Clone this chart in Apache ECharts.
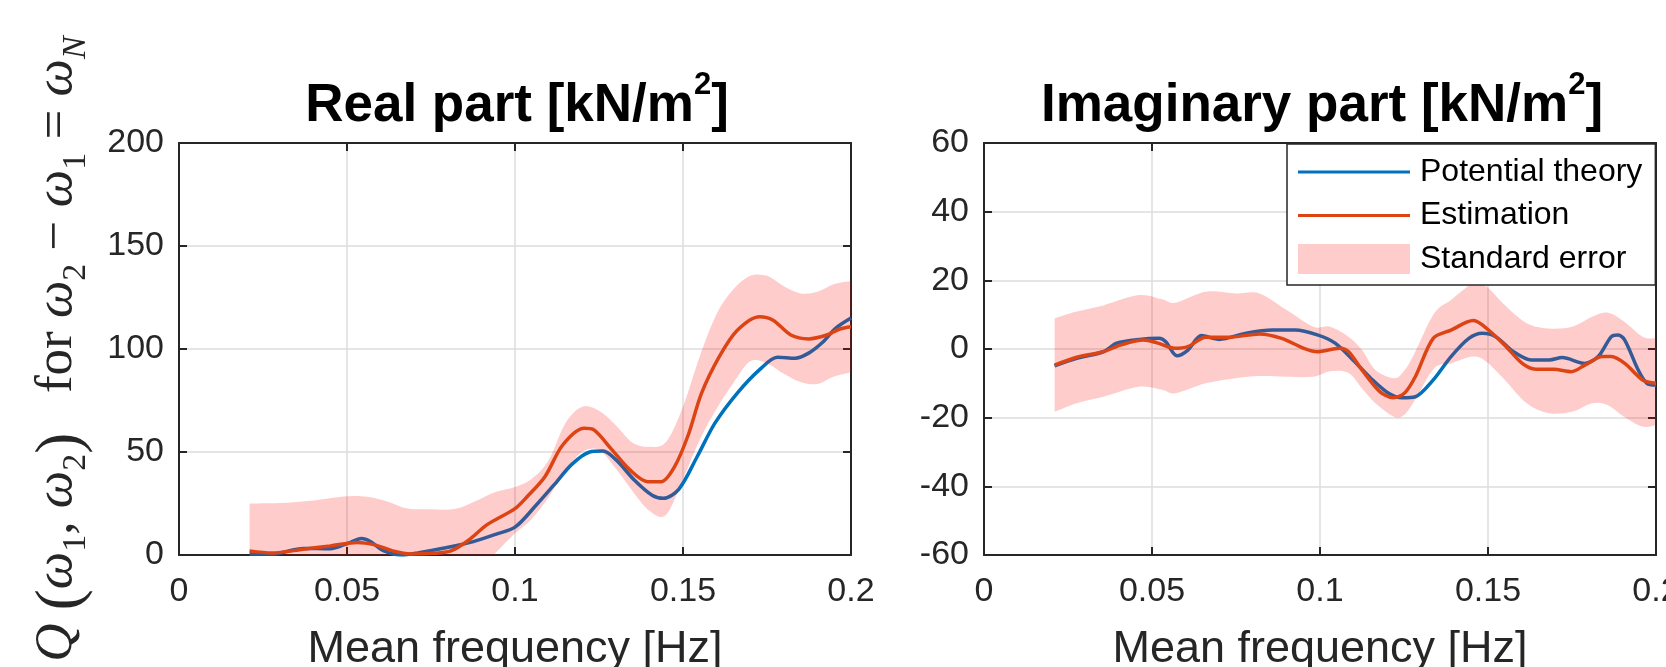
<!DOCTYPE html>
<html>
<head>
<meta charset="utf-8">
<script src="https://cdn.jsdelivr.net/npm/echarts@6/dist/echarts.min.js"></script>
<style>
  html, body { margin: 0; padding: 0; background: #fff; }
  #chart { width: 1666px; height: 667px; }
</style>
</head>
<body>
<div id="chart"></div>
<script>
// ---- Real part ----
const realTheoryX = [0.021, 0.0277, 0.037, 0.045, 0.0503, 0.0543, 0.057, 0.061, 0.0663, 0.0703, 0.0743, 0.0809, 0.0876, 0.0942, 0.1, 0.1062, 0.1116, 0.1169, 0.1222, 0.1262, 0.1302, 0.1355, 0.1408, 0.1442, 0.1488, 0.1542, 0.1595, 0.1661, 0.1728, 0.1781, 0.1834, 0.1874, 0.1914, 0.1954, 0.2];
const realTheoryY = [0.5, 0.5, 3.2, 3, 5.7, 8, 6.5, 2, 0, 0.8, 2, 4, 6.5, 10, 13.5, 24, 34, 44, 50, 50.5, 46, 36.4, 29, 27.5, 32, 47.7, 64, 78.5, 90, 96, 95.5, 98, 103, 110, 115];
const realEstX = [0.021, 0.0277, 0.037, 0.045, 0.053, 0.0583, 0.0636, 0.069, 0.0756, 0.0809, 0.0863, 0.0916, 0.1, 0.1036, 0.1089, 0.1142, 0.1206, 0.1235, 0.1289, 0.1342, 0.1395, 0.1435, 0.1475, 0.1515, 0.1555, 0.1608, 0.1661, 0.1728, 0.1768, 0.1821, 0.1874, 0.1928, 0.1967, 0.2];
const realEstY = [2, 1, 2.8, 4.4, 6.1, 4.9, 2, 0.5, 0.8, 2, 7.3, 14.6, 22.5, 28.3, 38, 53.4, 61.5, 60.7, 51, 41.3, 35.6, 35.6, 42.9, 58, 78.5, 96.3, 109, 115.7, 114, 106.8, 104.9, 106.8, 109.7, 110.8];
const realBandX = [0.021, 0.03, 0.04, 0.05, 0.056, 0.062, 0.068, 0.075, 0.082, 0.088, 0.094, 0.1, 0.105, 0.11, 0.115, 0.12, 0.125, 0.13, 0.135, 0.14, 0.145, 0.15, 0.155, 0.16, 0.165, 0.17, 0.175, 0.18, 0.185, 0.19, 0.195, 0.2];
const realBandLow = [-22, -22, -22, -22, -22, -22, -22, -22, -19, -9, 0.6, 10.5, 17.5, 28, 41, 50, 51, 42, 31, 21.5, 19.5, 37, 56, 71, 83.5, 94, 93, 88, 84, 83, 86.6, 88.7];
const realBandHigh = [25, 25.2, 26.5, 28.5, 28.3, 26, 22.6, 22.2, 22.3, 26, 30.5, 33, 37, 46, 64, 72, 70, 63, 54.5, 52.5, 55, 72, 96.5, 117, 129, 135.5, 135.5, 130.5, 127, 127.8, 131.5, 133];

// ---- Imaginary part ----
const imagTheoryX = [0.021, 0.0276, 0.0355, 0.0395, 0.0462, 0.0521, 0.0541, 0.0574, 0.0607, 0.0647, 0.07, 0.078, 0.0859, 0.0926, 0.0992, 0.1045, 0.1098, 0.1151, 0.1204, 0.1244, 0.1284, 0.1337, 0.139, 0.1443, 0.1483, 0.1523, 0.1576, 0.1629, 0.1682, 0.1721, 0.1788, 0.1828, 0.1867, 0.1887, 0.1907, 0.1947, 0.1973, 0.2];
const imagTheoryY = [-4.9, -2.7, -0.8, 1.7, 2.8, 3.1, 2.1, -2, -0.3, 3.9, 2.8, 4.6, 5.5, 5.5, 4.1, 1.7, -3.2, -8.5, -12.9, -14.2, -13.9, -9, -2.2, 3.1, 4.6, 3.6, -0.8, -3.2, -3.2, -2.5, -4.2, -2.2, 3.6, 4.1, 2.6, -6.1, -10, -10.5];
const imagEstX = [0.021, 0.0276, 0.0355, 0.0408, 0.0475, 0.0515, 0.0568, 0.0607, 0.066, 0.0727, 0.082, 0.0886, 0.0952, 0.0992, 0.1058, 0.1085, 0.1125, 0.1178, 0.1218, 0.1251, 0.1284, 0.1337, 0.139, 0.1456, 0.1483, 0.1549, 0.1602, 0.1642, 0.1695, 0.1748, 0.1788, 0.1841, 0.1867, 0.1907, 0.196, 0.2];
const imagEstY = [-4.7, -2.4, -0.8, 1.2, 2.6, 1.8, 0.2, 0.7, 3.4, 3.4, 4.4, 3.1, 0.2, -0.8, 0.2, -0.8, -6.1, -12.4, -14.2, -12.9, -8, 3.1, 5.5, 8.3, 7, 1.2, -4.2, -5.9, -5.9, -6.6, -4.7, -2.2, -2.2, -4.2, -9, -10];
const imagBandX = [0.021, 0.0276, 0.0355, 0.046, 0.053, 0.057, 0.066, 0.075, 0.082, 0.09, 0.098, 0.103, 0.1085, 0.1125, 0.1165, 0.122, 0.125, 0.128, 0.134, 0.139, 0.1455, 0.1495, 0.155, 0.1615, 0.168, 0.175, 0.181, 0.1855, 0.1905, 0.196, 0.2];
const imagBandLow = [-18.3, -15.8, -13.9, -11, -11.9, -12.9, -10, -8.5, -7.9, -8.1, -8.1, -6.5, -7, -11.5, -15.8, -19.7, -19.2, -15.3, -5.6, -4.2, -2.2, -3.7, -9, -15.8, -18.7, -18.3, -15.8, -16.3, -19.7, -22.6, -22.1];
const imagBandHigh = [8.9, 10.9, 12.7, 15.7, 14.5, 13.5, 16.7, 16.2, 16.2, 11.4, 6.5, 6.5, 3.6, -0.3, -6.1, -8.5, -6.4, -1.5, 10.4, 14.3, 19.1, 18.2, 12.8, 7.5, 6, 6.5, 9.4, 10.6, 8, 3.6, 3.1];

const xTicks = { min: 0, max: 0.2, interval: 0.05 };
const realTicks = { min: 0, max: 200, interval: 50 };
const imagTicks = { min: -60, max: 60, interval: 20 };

const BLUE = '#0072bd';
const RED = '#dd4414';
const BAND = 'rgba(255,0,0,0.2)';   // see-through like the matlab patch
const INK = '#262626';
const SANS = 'Liberation Sans';

function zip(xs, ys) { return xs.map((x, i) => [x, ys[i]]); }

// catmull-rom through pixel points -> bezier commands
function curveTo(pts) {
  let d = '';
  for (let i = 0; i < pts.length - 1; i++) {
    const p0 = pts[i - 1] || pts[i], p1 = pts[i], p2 = pts[i + 1], p3 = pts[i + 2] || p2;
    d += ' C' + (p1[0] + (p2[0] - p0[0]) / 6) + ',' + (p1[1] + (p2[1] - p0[1]) / 6) + ' ' +
      (p2[0] - (p3[0] - p1[0]) / 6) + ',' + (p2[1] - (p3[1] - p1[1]) / 6) + ' ' + p2[0] + ',' + p2[1];
  }
  return d;
}

var chart = echarts.init(document.getElementById('chart'));

function mainX(grid) {
  return {
    type: 'value', gridIndex: grid, position: 'bottom',
    min: xTicks.min, max: xTicks.max, interval: xTicks.interval,
    name: 'Mean frequency [Hz]', nameLocation: 'middle', nameGap: 72,
    nameTextStyle: { fontSize: 45, color: INK, fontFamily: SANS },
    axisLine: { onZero: false, lineStyle: { color: INK, width: 2 } },
    axisTick: { inside: true, length: 8, lineStyle: { color: INK, width: 2 } },
    axisLabel: { fontSize: 34, color: INK, fontFamily: SANS, margin: 20 },
    splitLine: { show: true, lineStyle: { color: '#dcdcdc', width: 1.5 } }
  };
}
function mainY(grid, t) {
  return {
    type: 'value', gridIndex: grid, position: 'left',
    min: t.min, max: t.max, interval: t.interval,
    axisLine: { show: true, onZero: false, lineStyle: { color: INK, width: 2 } },
    axisTick: { show: true, inside: true, length: 8, lineStyle: { color: INK, width: 2 } },
    axisLabel: { fontSize: 34, color: INK, fontFamily: SANS, margin: 15 },
    splitLine: { show: true, lineStyle: { color: '#dcdcdc', width: 1.5 } }
  };
}
// top / right box edges
function boxX(grid) {
  return {
    type: 'value', gridIndex: grid, position: 'top',
    min: xTicks.min, max: xTicks.max, interval: xTicks.interval,
    axisLine: { onZero: false, lineStyle: { color: INK, width: 2 } },
    axisTick: { inside: true, length: 8, lineStyle: { color: INK, width: 2 } },
    axisLabel: { show: false }, splitLine: { show: false }
  };
}
function boxY(grid, t) {
  return {
    type: 'value', gridIndex: grid, position: 'right',
    min: t.min, max: t.max, interval: t.interval,
    axisLine: { show: true, onZero: false, lineStyle: { color: INK, width: 2 } },
    axisTick: { show: true, inside: true, length: 8, lineStyle: { color: INK, width: 2 } },
    axisLabel: { show: false }, splitLine: { show: false }
  };
}

function panelSeries(idx, bandX, low, high, thX, thY, esX, esY) {
  return [
    {
      name: 'Potential theory', type: 'line', xAxisIndex: idx, yAxisIndex: idx,
      data: zip(thX, thY), symbol: 'none', smooth: 0.3, color: BLUE,
      lineStyle: { color: BLUE, width: 3.5 }, z: 2
    },
    {
      // band goes over the blue line and the grid, under the red line
      name: 'Standard error', type: 'custom', xAxisIndex: idx, yAxisIndex: idx,
      data: bandX.map((x, i) => [x, low[i], high[i]]),
      encode: { x: 0, y: [1, 2] }, clip: true, silent: true, z: 3,
      itemStyle: { color: BAND },
      renderItem: function (params, api) {
        if (params.dataIndex !== 0) return null;
        const up = bandX.map((x, i) => api.coord([x, high[i]]));
        const dn = bandX.map((x, i) => api.coord([x, low[i]])).reverse();
        const d = 'M' + up[0][0] + ',' + up[0][1] + curveTo(up) +
          ' L' + dn[0][0] + ',' + dn[0][1] + curveTo(dn) + ' Z';
        return { type: 'path', shape: { pathData: d }, style: { fill: BAND, stroke: null } };
      }
    },
    {
      name: 'Estimation', type: 'line', xAxisIndex: idx, yAxisIndex: idx,
      data: zip(esX, esY), symbol: 'none', smooth: 0.3, color: RED,
      lineStyle: { color: RED, width: 3.5 }, z: 4
    }
  ];
}

// titles with superscript, laid out by measured widths
const measureCtx = document.createElement('canvas').getContext('2d');
function textW(str, size) {
  measureCtx.font = 'bold ' + size + 'px "' + SANS + '"';
  return measureCtx.measureText(str).width;
}
function titleParts(main, cx) {
  const big = 53, small = 31, yMid = 106.5, ySup = 85;
  const w1 = textW(main, big), w2 = textW('2', small), w3 = textW(']', big);
  const x0 = cx - (w1 + w2 + w3) / 2;
  const st = (t, s) => ({ text: t, fill: '#000', font: 'bold ' + s + 'px "' + SANS + '"', align: 'left', verticalAlign: 'middle' });
  return [
    { type: 'text', x: x0, y: yMid, z: 10, style: st(main, big) },
    { type: 'text', x: x0 + w1, y: ySup, z: 10, style: st('2', small) },
    { type: 'text', x: x0 + w1 + w2, y: yMid, z: 10, style: st(']', big) }
  ];
}

const mathRich = {
  i: { fontSize: 53, fontStyle: 'italic', fontFamily: 'Liberation Serif', fill: INK, lineHeight: 62, verticalAlign: 'top' },
  r: { fontSize: 53, fontFamily: 'Liberation Serif', fill: INK, lineHeight: 62, verticalAlign: 'top' },
  p: { fontSize: 63, fontFamily: 'Liberation Serif', fill: INK, lineHeight: 62, verticalAlign: 'top' },
  sb: { fontSize: 34, fontFamily: 'Liberation Serif', fill: INK, lineHeight: 34, verticalAlign: 'bottom' },
  si: { fontSize: 34, fontStyle: 'italic', fontFamily: 'Liberation Serif', fill: INK, lineHeight: 34, verticalAlign: 'bottom' }
};

const LINE_ICON = 'path://M0,0H112V3H0Z';

const option = {
  backgroundColor: '#fff',
  animation: false,
  grid: [
    { left: 179, top: 143, width: 672, height: 412, outerBoundsMode: 'none', containLabel: false },
    { left: 984, top: 143, width: 672, height: 412, outerBoundsMode: 'none', containLabel: false }
  ],
  xAxis: [mainX(0), mainX(1), boxX(0), boxX(1)],
  yAxis: [mainY(0, realTicks), mainY(1, imagTicks), boxY(0, realTicks), boxY(1, imagTicks)],
  legend: {
    data: [
      { name: 'Potential theory', icon: LINE_ICON },
      { name: 'Estimation', icon: LINE_ICON },
      { name: 'Standard error', icon: 'rect', itemStyle: { color: BAND } }
    ],
    orient: 'vertical', left: 1287, top: 144,
    padding: [12, 13, 10, 11], itemWidth: 112, itemHeight: 30, itemGap: 11.5,
    backgroundColor: '#fff', borderColor: INK, borderWidth: 1.5, borderRadius: 0,
    selectedMode: false,
    textStyle: { fontSize: 32, color: '#000', fontFamily: SANS, padding: [0, 0, 0, 5] }
  },
  graphic: [].concat(
    titleParts('Real part [kN/m', 517),
    titleParts('Imaginary part [kN/m', 1322),
    [{
      type: 'text', x: 62, y: 349, rotation: Math.PI / 2, z: 10,
      style: {
        text: '{i|Q}{r| }{p|(}{i|ω}{sb|1}{r|, }{i|ω}{sb|2}{p|)}{r|   for }{i|ω}{sb|2}{r| − }{i|ω}{sb|1}{r| = }{i|ω}{si|N}',
        rich: mathRich, align: 'center', verticalAlign: 'middle'
      }
    }]
  ),
  series: [].concat(
    panelSeries(0, realBandX, realBandLow, realBandHigh, realTheoryX, realTheoryY, realEstX, realEstY),
    panelSeries(1, imagBandX, imagBandLow, imagBandHigh, imagTheoryX, imagTheoryY, imagEstX, imagEstY)
  )
};

chart.setOption(option);
</script>
</body>
</html>
